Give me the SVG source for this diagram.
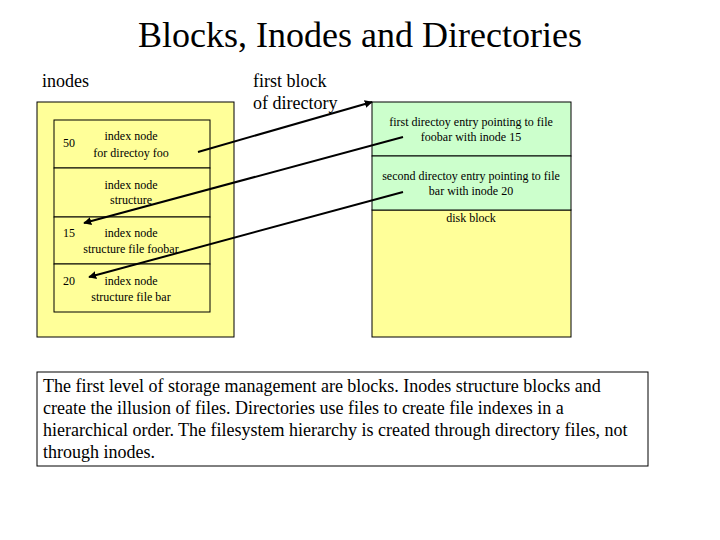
<svg xmlns="http://www.w3.org/2000/svg" width="720" height="540" viewBox="0 0 720 540" font-family="'Liberation Serif', 'Times New Roman', serif">
<defs>
<marker id="ah" viewBox="0 0 10 10" refX="9" refY="5" markerWidth="8" markerHeight="8" markerUnits="userSpaceOnUse" orient="auto">
<path d="M0,0 L10,5 L0,10 z" fill="#000"/>
</marker>
<style>
.t{font-family:'Liberation Serif','Times New Roman',serif;font-size:36px;fill:#000}
.s{font-family:'Liberation Serif','Times New Roman',serif;font-size:12px;fill:#000}
.m{font-family:'Liberation Serif','Times New Roman',serif;font-size:18px;fill:#000}
.y{fill:#FFFF99;stroke:#000;stroke-width:1}
.g{fill:#CCFFCC;stroke:#000;stroke-width:1}
.c{stroke:#000;stroke-width:2;fill:none;marker-end:url(#ah)}
</style>
</defs>
<rect width="720" height="540" fill="#fff"/>
<text x="360" y="47" text-anchor="middle" class="t">Blocks, Inodes and Directories</text>
<text x="42" y="87" class="m">inodes</text>
<text x="253" y="87" class="m">first block</text>
<text x="253" y="109" class="m">of directory</text>
<g id="inodes">
<rect x="37" y="102" width="197" height="235" class="y"/>
</g>
<g id="inode50">
<rect x="54" y="120" width="156" height="48" class="y"/>
<text x="63" y="147" class="s">50</text>
<text x="131" y="140" class="s" text-anchor="middle">index node</text>
<text x="131" y="157" class="s" text-anchor="middle">for directoy foo</text>
</g>
<g id="inodeStruct">
<rect x="54" y="168" width="156" height="49" class="y"/>
<text x="131" y="189" class="s" text-anchor="middle">index node</text>
<text x="131" y="204" class="s" text-anchor="middle">structure</text>
</g>
<g id="inode15">
<rect x="54" y="217" width="156" height="47" class="y"/>
<text x="63" y="237" class="s">15</text>
<text x="131" y="237" class="s" text-anchor="middle">index node</text>
<text x="131" y="253" class="s" text-anchor="middle">structure file foobar</text>
</g>
<g id="inode20">
<rect x="54" y="264" width="156" height="48" class="y"/>
<text x="63" y="285" class="s">20</text>
<text x="131" y="285" class="s" text-anchor="middle">index node</text>
<text x="131" y="301" class="s" text-anchor="middle">structure file bar</text>
</g>
<g id="diskblock">
<rect x="372" y="210" width="199" height="127" class="y"/>
<text x="471" y="222" class="s" text-anchor="middle">disk block</text>
</g>
<g id="entry1">
<rect x="372" y="102" width="199" height="54" class="g"/>
<text x="471" y="126" class="s" text-anchor="middle">first directoy entry pointing to file</text>
<text x="471" y="141" class="s" text-anchor="middle">foobar with inode 15</text>
</g>
<g id="entry2">
<rect x="372" y="156" width="199" height="54" class="g"/>
<text x="471" y="180" class="s" text-anchor="middle">second directoy entry pointing to file</text>
<text x="471" y="195" class="s" text-anchor="middle">bar with inode 20</text>
</g>
<g id="connectors">
<line x1="198" y1="152" x2="372" y2="102" class="c"/>
<line x1="403" y1="137" x2="84" y2="223" class="c"/>
<line x1="403" y1="192" x2="89" y2="277" class="c"/>
</g>
<g id="note">
<rect x="37" y="372" width="611" height="94" fill="#fff" stroke="#000" stroke-width="1"/>
<text x="43" y="392" class="m">The first level of storage management are blocks. Inodes structure blocks and</text>
<text x="43" y="414" class="m">create the illusion of files. Directories use files to create file indexes in a</text>
<text x="43" y="436" class="m">hierarchical order. The filesystem hierarchy is created through directory files, not</text>
<text x="43" y="458" class="m">through inodes.</text>
</g>
</svg>
